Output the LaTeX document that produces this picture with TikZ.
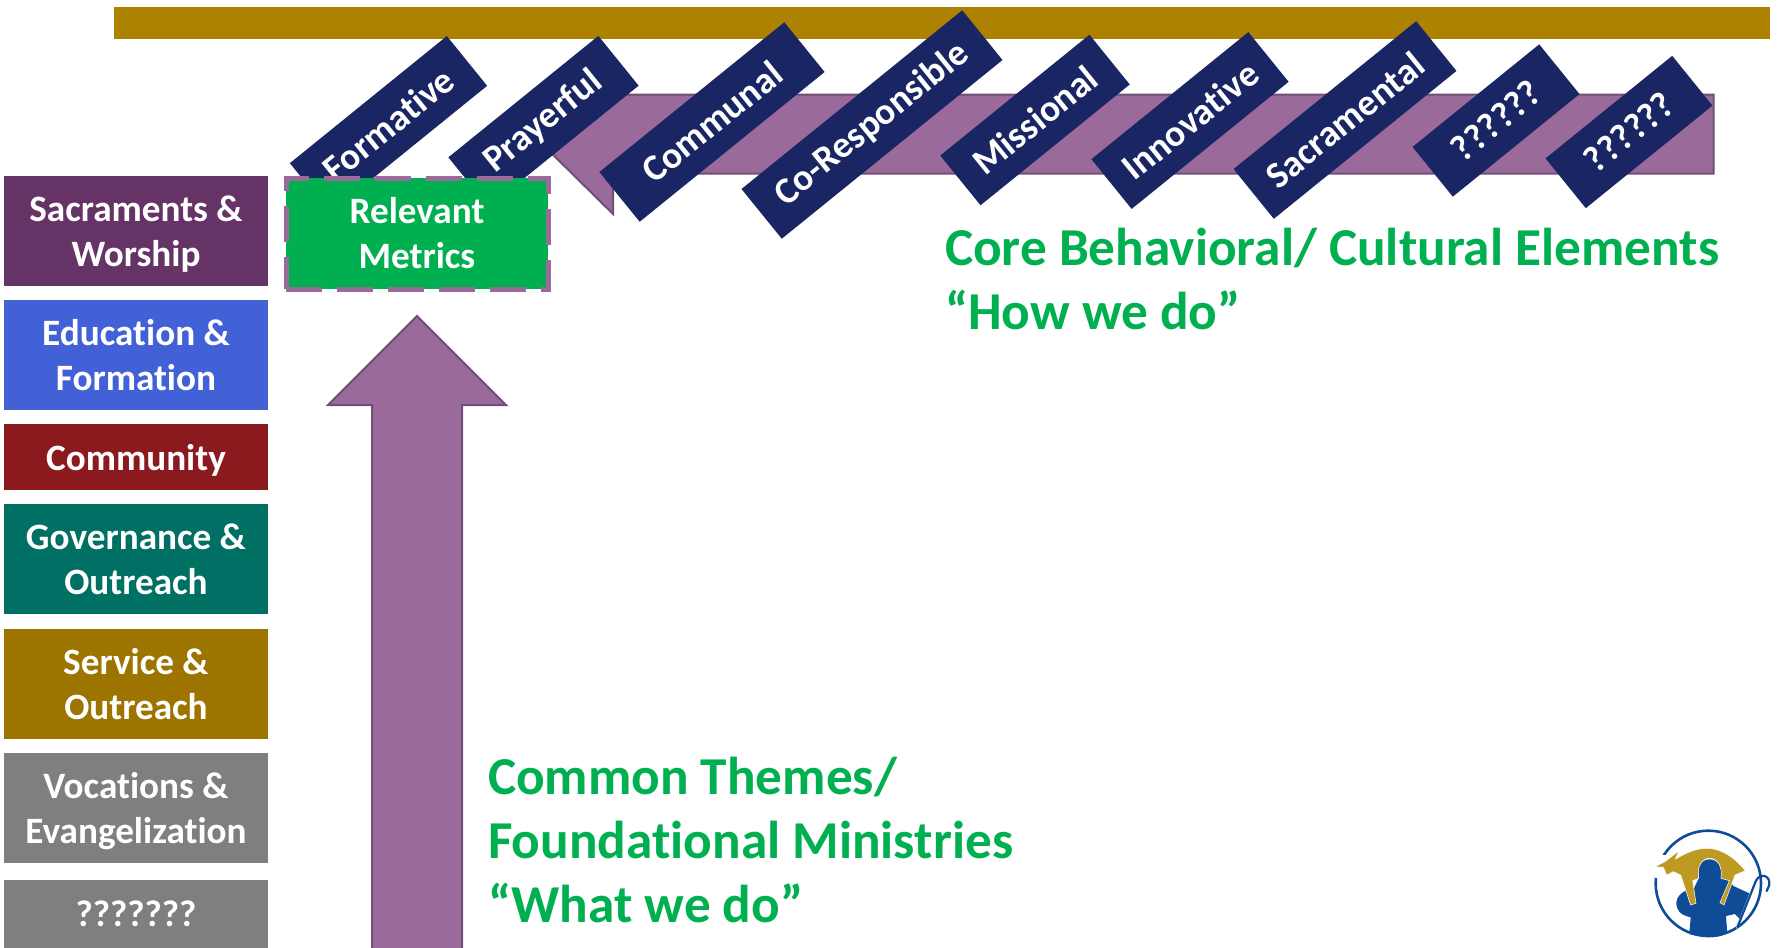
\documentclass[tikz,border=0pt]{standalone}
\usepackage{fontspec}
\setmainfont[Ligatures=CommonOff]{Carlito}
\definecolor{goldbar}{HTML}{AD8200}
\definecolor{arrowfill}{HTML}{9A6A9A}
\definecolor{arrowline}{HTML}{6F4F77}
\definecolor{navy}{HTML}{1A2663}
\definecolor{grn}{HTML}{00B050}
\definecolor{cSac}{HTML}{663366}
\definecolor{cEdu}{HTML}{4361D7}
\definecolor{cCom}{HTML}{8B1A1F}
\definecolor{cGov}{HTML}{006F64}
\definecolor{cSer}{HTML}{9E7400}
\definecolor{cVoc}{HTML}{7F7F7F}
\definecolor{logoblue}{HTML}{0F4C97}
\definecolor{logogold}{HTML}{BE9A22}
\tikzset{
  every node/.style={inner sep=0pt,outer sep=0pt},
  sidebox/.style={minimum width=264pt,align=center,text=white,text depth=0pt,font=\fontsize{37.2}{45}\selectfont\bfseries},
  slant/.style={fill=navy,text=white,minimum height=64pt,rotate=39,font=\fontsize{37.3}{42}\selectfont\bfseries},
  bigarrow/.style={fill=arrowfill,draw=arrowline,line width=2pt,line join=miter},
  caption/.style={anchor=base west,text=grn,font=\fontsize{53.3}{60}\selectfont\bfseries}
}
\begin{document}
\begin{tikzpicture}[x=1pt,y=-1pt]
\useasboundingbox (0,0) rectangle (1781,948);
\clip (0,0) rectangle (1781,948);
\fill[white] (0,0) rectangle (1781,948);
% gold bar
\node[fill=goldbar,minimum width=1656pt,minimum height=32pt] (bar) at (942,23) {};
% arrows
\draw[bigarrow] (1713.5,94.5) -- (613,94.5) -- (613,70) -- (532,134) -- (613,214) -- (613,173.5) -- (1713.5,173.5) -- cycle;
\draw[bigarrow] (372,950) -- (372,405) -- (328,405) -- (417,316) -- (506,405) -- (462,405) -- (462,950) -- cycle;
% slanted labels
\node[slant,minimum width=202pt] (formative) at (388.5,124.5) {Formative};
\node[slant,minimum width=193pt] (prayerful) at (543.5,121.5) {Prayerful};
\node[slant,minimum width=238pt] (communal) at (712,122) {Communal};
\node[slant,minimum width=284pt] (coresp) at (872,124.5) {Co-Responsible};
\node[slant,minimum width=192pt] (missional) at (1035,120) {Missional};
\node[slant,minimum width=202pt] (innovative) at (1190,120.5) {Innovative};
\node[slant,minimum width=235pt] (sacramental) at (1345,120) {Sacramental};
\node[slant,minimum width=163pt] (qa) at (1496,120.5) {??????};
\node[slant,minimum width=163pt] (qb) at (1629,132) {??????};
% relevant metrics
\node[fill=grn,draw=arrowfill,line width=5pt,dash pattern=on 36pt off 15pt,minimum width=262pt,minimum height=111pt,align=center,text=white,font=\fontsize{37.2}{45}\selectfont\bfseries] (metrics) at (417,233.5) {Relevant\\Metrics};
% side boxes
\node[sidebox,fill=cSac,minimum height=110pt] (s1) at (136,231) {Sacraments \&\\Worship};
\node[sidebox,fill=cEdu,minimum height=110pt] (s2) at (136,355) {Education \&\\Formation};
\node[sidebox,fill=cCom,minimum height=66pt] (s3) at (136,457) {Community};
\node[sidebox,fill=cGov,minimum height=110pt] (s4) at (136,559) {Governance \&\\Outreach};
\node[sidebox,fill=cSer,minimum height=110pt] (s5) at (136,684) {Service \&\\Outreach};
\node[sidebox,fill=cVoc,minimum height=110pt] (s6) at (136,808) {Vocations \&\\Evangelization};
\node[sidebox,fill=cVoc,minimum height=69pt] (s7) at (136,914) {???????};
% captions
\node[caption] (c1) at (945,265) {Core Behavioral/ Cultural Elements};
\node[caption] (c2) at (945,329) {“How we do”};
\node[caption] (c3) at (488,794) {Common Themes/};
\node[caption] (c4) at (488,858) {Foundational Ministries};
\node[caption] (c5) at (488,922) {“What we do”};
% logo
\begin{scope}[shift={(1620,810)},x=0.3333pt,y=-0.3333pt]
\draw[logoblue,line width=2.6pt] (265,220) circle[radius=158];
\fill[white] (105,135) rectangle (170,205);
\fill[logoblue] (268,148) .. controls (245,148) and (230,170) .. (236,205) -- (222,235) .. controls (185,240) and (160,265) .. (172,295) .. controls (178,312) and (195,318) .. (212,322) -- (208,372) .. controls (260,385) and (290,385) .. (322,370) -- (318,318) -- (345,312) -- (362,330) -- (388,250) -- (340,228) -- (328,212) -- (303,205) .. controls (308,168) and (292,148) .. (268,148) -- cycle;
\draw[white,line width=1.6pt] (350,355) -- (405,215);
\draw[logoblue,line width=2.2pt,line cap=round] (352,352) -- (408,212) .. controls (420,188) and (452,195) .. (448,225) -- (440,243);
\fill[logogold,draw=white,line width=0.5pt] (105,170) -- (135,155) -- (177,122) -- (166,147) .. controls (190,135) and (220,115) .. (260,115) .. controls (310,115) and (350,150) .. (376,182) -- (345,195) -- (312,285) -- (300,278) -- (328,212) -- (303,205) .. controls (308,168) and (292,145) .. (268,145) .. controls (245,145) and (230,170) .. (236,205) -- (218,212) -- (228,280) -- (212,285) -- (182,195) -- (160,185) -- (140,195) -- (130,172) -- cycle;
\end{scope}
\end{tikzpicture}
\end{document}
